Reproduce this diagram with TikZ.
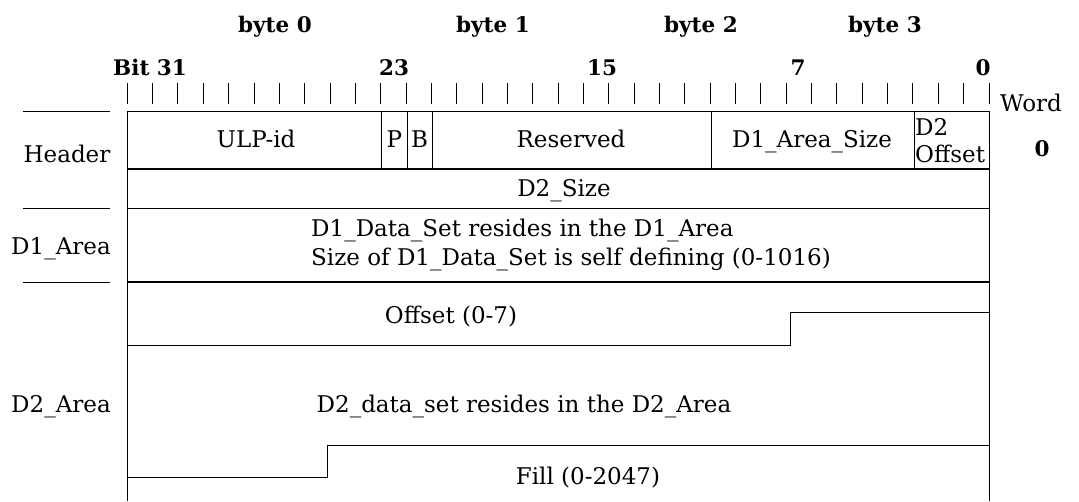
\documentclass[tikz,border=0pt]{standalone}
\usepackage{fontspec}
\setmainfont{DejaVu Serif}
\begin{document}
\begin{tikzpicture}[x=1pt,y=-1pt,
  thinline/.style={line width=1pt},
  thickline/.style={line width=2.4pt},
  txt/.style={inner sep=0pt, anchor=base, font=\fontsize{23}{27}\selectfont},
  txtw/.style={txt, anchor=base west},
  hdr/.style={inner sep=0pt, anchor=base, font=\fontsize{21.5}{25}\selectfont\bfseries}]
\useasboundingbox (0,0) rectangle (1079,501);
% top labels
\node[hdr] (b0) at (275,32) {byte 0};
\node[hdr] (b1) at (493,32) {byte 1};
\node[hdr] (b2) at (701,32) {byte 2};
\node[hdr] (b3) at (885,32) {byte 3};
\node[hdr] (bit31) at (150,75) {Bit 31};
\node[hdr] (bit23) at (394,75) {23};
\node[hdr] (bit15) at (602,75) {15};
\node[hdr] (bit7) at (798,75) {7};
\node[hdr] (bit0) at (983,75) {0};
\node[txt] (word) at (1031,111) {Word};
\node[hdr] (wnum) at (1042,156) {0};
% ticks
\foreach \k in {0,...,34} \draw[thinline] (127.3+\k*25.344,83) -- ++(0,21);
% left labels
\draw[thinline] (23,111) -- (110,111);
\draw[thinline] (23,208) -- (110,208);
\draw[thinline] (23,282) -- (110,282);
\node[txt] (lhdr) at (67,162) {Header};
\node[txt] (ld1) at (61,254) {D1\_Area};
\node[txt] (ld2) at (61,412) {D2\_Area};
% frame
\draw[thinline] (127.3,111) -- (989,111);
\draw[thinline] (127.3,111) -- (127.3,501);
\draw[thinline] (989,111) -- (989,501);
\foreach \x in {381.7,407,432.3,711,914} \draw[thinline] (\x,111) -- (\x,169);
\draw[thickline] (127.3,169) -- (989,169);
\draw[thinline] (127.3,208) -- (989,208);
\draw[thickline] (127.3,282) -- (989,282);
\draw[thinline] (127.3,345) -- (790,345) -- (790,312) -- (989,312);
\draw[thinline] (127.3,477) -- (327.3,477) -- (327.3,445) -- (989,445);
% header fields
\node[txt] (ulp) at (256,147) {ULP-id};
\node[txt] (p) at (394.3,147) {P};
\node[txt] (b) at (419.6,147) {B};
\node[txt] (res) at (571,147) {Reserved};
\node[txt] (d1size) at (812,147) {D1\_Area\_Size};
\node[txtw] (d2o1) at (915,135) {D2};
\node[txtw] (d2o2) at (915,162) {Offset};
% rows
\node[txt] (d2size) at (564,196) {D2\_Size};
\node[txtw] (d1a) at (311,236) {D1\_Data\_Set resides in the D1\_Area};
\node[txtw] (d1b) at (311,265) {Size of D1\_Data\_Set is self defining (0-1016)};
\node[txt] (off) at (451,323) {Offset (0-7)};
\node[txt] (d2data) at (524,412) {D2\_data\_set resides in the D2\_Area};
\node[txt] (fill) at (588,484) {Fill (0-2047)};
\end{tikzpicture}
\end{document}
